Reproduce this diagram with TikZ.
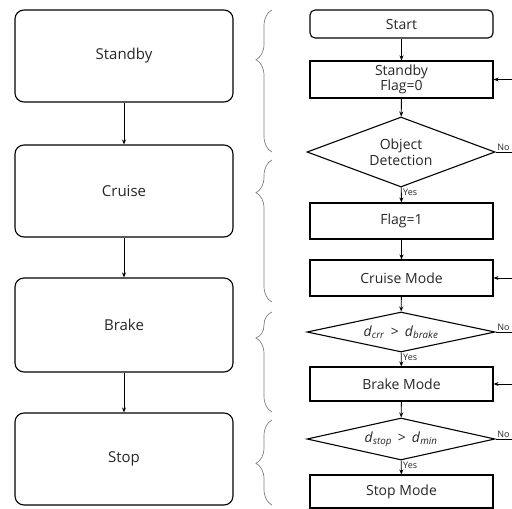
\documentclass[tikz,border=0pt]{standalone}
\usepackage{fontspec}
\setmainfont{Open Sans}
\usetikzlibrary{arrows.meta, positioning, shapes.geometric, decorations.pathreplacing}

\begin{document}
\begin{tikzpicture}[x=1pt, y=-1pt, >={Stealth[length=5pt, width=4pt]},
  every node/.style={font=\fontsize{14}{15.5}\selectfont, text=black!85},
  state/.style={draw, line width=1.1pt, rounded corners=9pt, minimum width=218pt, minimum height=92pt, font=\fontsize{15}{17}\selectfont},
  proc/.style={draw, line width=1.1pt, minimum width=183pt, minimum height=36pt, align=center, inner sep=1pt},
  decision/.style={draw, line width=1.1pt, diamond, aspect=4.7, minimum width=188pt, minimum height=40pt, align=center, inner sep=1pt},
  small/.style={font=\fontsize{9}{10}\selectfont, inner sep=1.5pt},
  brace/.style={decorate, decoration={brace, amplitude=16pt, aspect=#1}, draw=gray, line width=0.7pt},
  flow/.style={->, line width=0.9pt}]
  \useasboundingbox (0,0) rectangle (512,509);

  % left column
  \node[state] (standby) at (124,56) {Standby};
  \node[state] (cruise) at (124,191) {Cruise};
  \node[state, minimum height=94pt] (brake) at (124,325) {Brake};
  \node[state] (stop) at (124,459) {Stop};
  \draw[flow] (standby) -- (cruise);
  \draw[flow] (cruise) -- (brake);
  \draw[flow] (brake) -- (stop);

  % braces
  \draw[brace=0.65] (272,152) -- (272,10);
  \draw[brace=0.77] (272,302) -- (272,160);
  \draw[brace=0.74] (272,412) -- (272,312);
  \draw[brace=0.49] (272,505) -- (272,420);

  % right column
  \node[proc, rounded corners=5pt, minimum height=28pt] (start) at (401.5,24) {Start};
  \node[proc, minimum height=37pt] (flagzero) at (401.5,79.5) {Standby\\Flag=0};
  \node[decision, aspect=2.7, minimum height=70pt] (detect) at (401,152) {Object\\Detection};
  \node[proc] (flagone) at (401.5,221) {Flag=1};
  \node[proc] (cruisemode) at (401.5,278) {Cruise Mode};
  \node[decision] (dbrake) at (401,332) {\textit{d}\textsubscript{\textit{crr}} \,>\, \textit{d}\textsubscript{\textit{brake}}};
  \node[proc, minimum height=34pt] (brakemode) at (401.5,384) {Brake Mode};
  \node[decision, minimum height=42pt] (dmin) at (401,439) {\textit{d}\textsubscript{\textit{stop}} \,>\, \textit{d}\textsubscript{\textit{min}}};
  \node[proc, minimum height=33pt] (stopmode) at (401.5,491.5) {Stop Mode};

  \draw[flow] (start) -- (flagzero);
  \draw[flow] (flagzero) -- (detect);
  \draw[flow] (detect) -- node[small, pos=0.35, right] {Yes} (flagone);
  \draw[flow] (flagone) -- (cruisemode);
  \draw[flow] (cruisemode) -- (dbrake);
  \draw[flow] (dbrake) -- node[small, pos=0.35, right] {Yes} (brakemode);
  \draw[flow] (brakemode) -- (dmin);
  \draw[flow] (dmin) -- node[small, pos=0.35, right] {Yes} (stopmode);

  % no branches and loop backs
  \coordinate (noa) at (512,152);
  \coordinate (nob) at (512,332);
  \coordinate (noc) at (512,439);
  \draw[line width=0.8pt] (detect.east) -- (noa) node[small, pos=0, anchor=south west] {No};
  \draw[line width=0.8pt] (dbrake.east) -- (nob) node[small, pos=0, anchor=south west] {No};
  \draw[line width=0.8pt] (dmin.east) -- (noc) node[small, pos=0, anchor=south west] {No};
  \coordinate (backa) at (512,79.5);
  \coordinate (backb) at (512,278);
  \coordinate (backc) at (512,384);
  \draw[flow] (backa) -- (flagzero.east);
  \draw[flow] (backb) -- (cruisemode.east);
  \draw[flow] (backc) -- (brakemode.east);
\end{tikzpicture}
\end{document}
